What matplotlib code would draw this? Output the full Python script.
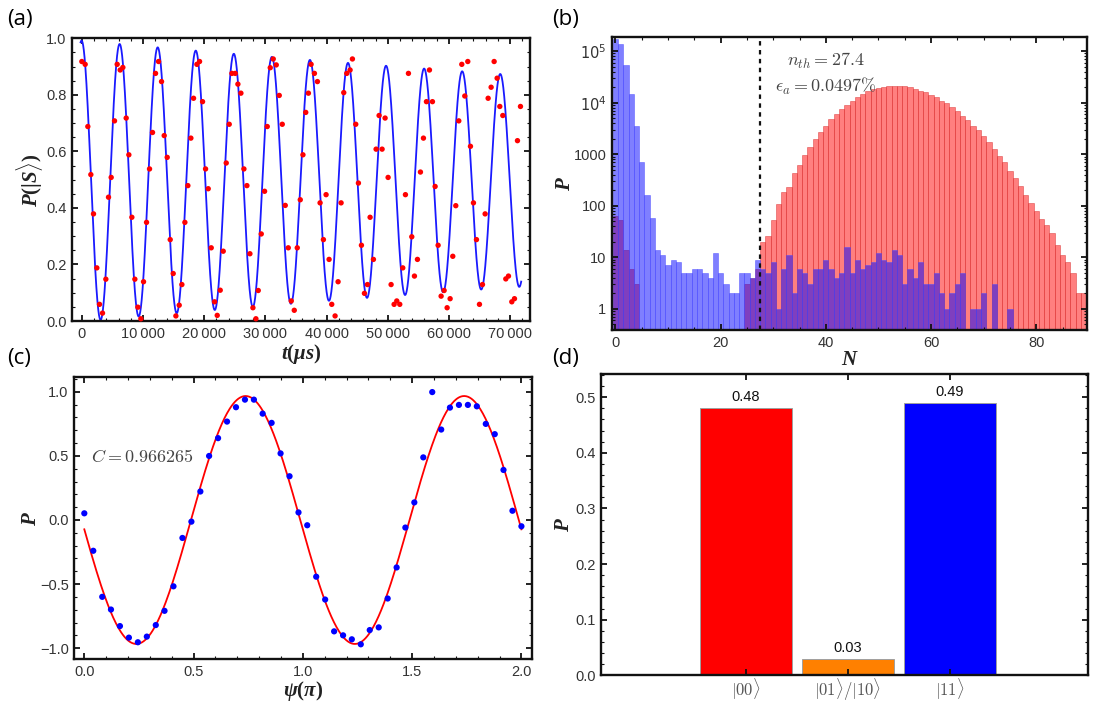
import numpy as np
import matplotlib.pyplot as plt
from matplotlib.ticker import (MultipleLocator, FixedLocator, FixedFormatter,
                               NullFormatter, LogLocator, FuncFormatter)

plt.rcParams['font.family'] = 'Liberation Sans'
plt.rcParams['mathtext.it'] = 'Liberation Serif:italic:bold'
plt.rcParams['mathtext.rm'] = 'Liberation Serif:bold'
plt.rcParams['mathtext.bf'] = 'Liberation Serif:bold'

# ---- (a) oscillation of P(|S>) vs t ----
t_meas = [0, 545, 981, 1472, 1908, 2453, 2889, 3379, 3924, 4360, 4796, 5341, 5777, 6268,
          6704, 7249, 7685, 8175, 8666, 9156, 9647, 10083, 10573, 11064, 11554, 12045,
          12535, 13026, 13462, 13952, 14443, 14933, 15369, 15914, 16350, 16841, 17331,
          17822, 18258, 18803, 19239, 19729, 20220, 20656, 21146, 21691, 22127, 22618,
          23108, 23599, 24089, 24525, 25070, 25506, 25997, 26487, 26978, 27468, 27959,
          28449, 28830, 29321, 29866, 30302, 30793, 31283, 31774, 32264, 32755, 33245,
          33736, 34226, 34717, 35207, 35698, 36134,
          36593, 37029, 37465, 38010, 38500, 38936, 39481, 39917, 40407, 40843, 41388,
          41878, 42369, 42805, 43295, 43840, 44221, 44766, 45202, 45693, 46183, 46673,
          47109, 47654, 48090, 48581, 49071, 49561, 50052, 50542, 51033, 51469, 51959,
          52449, 52885, 53376, 53921, 54357, 54847, 55337, 55828, 56318, 56809, 57299,
          57735, 58225, 58716, 59206, 59697, 60187, 60623, 61113, 61604, 62094, 62585,
          63075, 63511, 64001, 64492, 64982, 65472, 65908, 66399, 66889, 67380, 67870,
          68306, 68796, 69287, 69723, 70268, 70704, 71194, 71684]
p_meas = [0.918, 0.908, 0.688, 0.518, 0.379, 0.188, 0.059, 0.028, 0.148, 0.438, 0.508,
          0.708, 0.908, 0.888, 0.897, 0.718, 0.588, 0.367, 0.148, 0.049, 0.008, 0.139,
          0.349, 0.538, 0.667, 0.876, 0.918, 0.847, 0.656, 0.579, 0.288, 0.168, 0.018,
          0.056, 0.129, 0.349, 0.479, 0.647, 0.788, 0.908, 0.918, 0.776, 0.538, 0.468,
          0.259, 0.068, 0.020, 0.109, 0.247, 0.559, 0.696, 0.876, 0.876, 0.838, 0.806,
          0.538, 0.479, 0.238, 0.047, 0.008, 0.108, 0.308, 0.459, 0.688, 0.896, 0.927,
          0.906, 0.798, 0.696, 0.409, 0.259, 0.071, 0.038, 0.259, 0.429, 0.588,
          0.738, 0.806, 0.908, 0.876, 0.847, 0.418, 0.288, 0.447, 0.218, 0.059, 0.018,
          0.139, 0.418, 0.808, 0.876, 0.888, 0.927, 0.696, 0.488, 0.268, 0.098, 0.129,
          0.367, 0.218, 0.608, 0.727, 0.608, 0.718, 0.508, 0.129, 0.059, 0.071, 0.059,
          0.188, 0.447, 0.876, 0.298, 0.159, 0.218, 0.527, 0.647, 0.776, 0.888, 0.776,
          0.476, 0.268, 0.088, 0.108, 0.047, 0.079, 0.229, 0.408, 0.708, 0.908, 0.796,
          0.918, 0.618, 0.418, 0.288, 0.059, 0.129, 0.379, 0.788, 0.827, 0.918, 0.859,
          0.759, 0.727, 0.149, 0.159, 0.068, 0.079, 0.638, 0.759]
# damped-cosine fit parameters
fit_offset = 0.495
fit_amp = 0.497
fit_tau = 252000.0
fit_period = 6220.0
fit_t0 = -40.0

# ---- (b) photon-count histograms ----
counts_N = np.arange(90)
counts_blue = [170000, 135000, 53000, 15000, 3550, 720, 165, 57, 14, 11,
               7, 9, 8, 5, 5, 6, 6, 5, 4, 12,
               5, 3, 2, 2, 5, 5, 4, 9, 6, 5,
               8, 1, 6, 11, 2, 6, 5, 3, 6, 6,
               9, 6, 4, 5, 16, 5, 9, 6, 7, 8,
               12, 9, 8, 14, 11, 3, 6, 4, 8, 3,
               3, 5, 2, 1, 2, 3, 5, 0, 1, 1,
               2, 0, 3, 0, 0, 1, 0, 0, 0, 0,
               0, 0, 0, 0, 0, 0, 0, 0, 0, 0]
counts_red = [63, 52, 14, 6, 3, 0, 0, 0, 0, 0,
              0, 0, 0, 0, 0, 0, 0, 0, 0, 0,
              0, 0, 0, 0, 0, 3, 4, 6, 20, 26,
              52, 110, 185, 235, 440, 620, 975, 1370, 2000, 2700,
              3600, 4800, 6100, 7500, 9100, 11000, 12700, 14700, 16600, 18000,
              19000, 20300, 20800, 21000, 21000, 20800, 20300, 18500, 17000, 15900,
              14200, 12700, 11000, 9700, 8100, 6800, 5400, 4700, 3570, 2900,
              2270, 1700, 1290, 930, 700, 480, 340, 240, 160, 114,
              79, 56, 42, 30, 17, 11, 8, 5, 2, 2]
n_threshold = 27.4

# ---- (c) parity oscillation ----
psi = [0.000, 0.041, 0.082, 0.122, 0.163, 0.204, 0.245, 0.286, 0.327, 0.367,
       0.408, 0.449, 0.490, 0.531, 0.571, 0.612, 0.653, 0.694, 0.735, 0.776,
       0.816, 0.857, 0.898, 0.939, 0.980, 1.020, 1.061, 1.102, 1.143, 1.184,
       1.224, 1.265, 1.306, 1.347, 1.388, 1.429, 1.469, 1.510, 1.551, 1.592,
       1.633, 1.673, 1.714, 1.755, 1.796, 1.837, 1.878, 1.918, 1.959, 2.000]
parity = [0.052, -0.240, -0.599, -0.698, -0.827, -0.917, -0.953, -0.909, -0.819, -0.708,
          -0.517, -0.140, -0.013, 0.222, 0.499, 0.638, 0.767, 0.879, 0.938, 0.938,
          0.829, 0.757, 0.519, 0.341, 0.059, -0.041, -0.442, -0.620, -0.868, -0.899,
          -0.930, -0.969, -0.858, -0.837, -0.612, -0.370, -0.059, 0.137, 0.488, 0.997,
          0.705, 0.876, 0.897, 0.897, 0.886, 0.749, 0.669, 0.390, 0.072, -0.049]
contrast = 0.966265
psi_peak = 0.738

# ---- (d) state populations ----
states = [r'$|00\rangle$', r'$|01\rangle/|10\rangle$', r'$|11\rangle$']
populations = [0.48, 0.03, 0.49]
state_colors = ['#ff0000', '#ff8000', '#0000ff']


def style_frame(ax):
    for s in ax.spines.values():
        s.set_linewidth(1.7)
        s.set_color('#111111')
    ax.tick_params(which='both', direction='in', top=True, right=True,
                   colors='#111111', labelcolor='#333333', labelsize=10.5)
    ax.tick_params(which='major', length=4, width=1.3, pad=4)
    ax.tick_params(which='minor', length=2.2, width=0.8)


lab = dict(fontsize=15, math_fontfamily='custom', color='#222222')
note = dict(fontsize=13, math_fontfamily='cm', color='#444444')

fig = plt.figure(figsize=(11.1, 7.02), dpi=100)
ax_a = fig.add_axes([0.0649, 0.5427, 0.4129, 0.4027])
ax_b = fig.add_axes([0.5513, 0.5299, 0.4282, 0.4178])
ax_c = fig.add_axes([0.0669, 0.0608, 0.4123, 0.4017])
ax_d = fig.add_axes([0.5418, 0.0380, 0.4383, 0.4288])

# (a)
t_fit = np.linspace(-200, 71800, 4000)
p_fit = fit_offset + fit_amp * np.exp(-t_fit / fit_tau) * np.cos(2 * np.pi * (t_fit - fit_t0) / fit_period)
ax_a.plot(t_fit, p_fit, color='#1a1aff', lw=1.3, zorder=2)
ax_a.scatter(t_meas, p_meas, s=15, color='#ff0000', edgecolors='none', zorder=3, clip_on=False)
ax_a.set_xlim(-1600, 73300)
ax_a.set_ylim(0, 1)
ax_a.xaxis.set_major_locator(MultipleLocator(10000))
ax_a.xaxis.set_minor_locator(MultipleLocator(2000))
ax_a.xaxis.set_major_formatter(FuncFormatter(lambda v, p: f'{int(round(v)):,}'.replace(',', '\u2009')))
ax_a.yaxis.set_major_locator(MultipleLocator(0.2))
ax_a.yaxis.set_minor_locator(MultipleLocator(0.05))
ax_a.yaxis.set_major_formatter(FuncFormatter(lambda v, p: f'{v:.1f}'))
ax_a.set_xlabel(r'$t(\mu s)$', labelpad=1, **lab)
ax_a.set_ylabel(r'$P(|S\rangle)$', labelpad=1, **lab)
style_frame(ax_a)

# (b)
red = np.array(counts_red, dtype=float)
blue = np.array(counts_blue, dtype=float)
mr = red > 0
mb = blue > 0
ax_b.bar(counts_N[mr], red[mr], width=1.0, color=(1, 0, 0, 0.5),
         edgecolor=(0.85, 0.2, 0.2, 0.55), linewidth=0.6)
ax_b.bar(counts_N[mb], blue[mb], width=1.0, color=(0, 0, 1, 0.5),
         edgecolor=(0.3, 0.3, 1, 0.55), linewidth=0.6)
ax_b.set_yscale('log')
ax_b.set_xlim(-0.67, 89.7)
ax_b.set_ylim(0.39, 1.9e5)
ax_b.axvline(n_threshold, color='#111111', lw=1.6, ls=(0, (2, 2)))
ax_b.xaxis.set_major_locator(MultipleLocator(20))
ax_b.xaxis.set_minor_locator(MultipleLocator(5))
ax_b.yaxis.set_major_locator(FixedLocator([1, 10, 100, 1000, 1e4, 1e5]))
ax_b.yaxis.set_major_formatter(FixedFormatter(['1', '10', '100', '1000', r'$10^4$', r'$10^5$']))
ax_b.yaxis.set_minor_locator(LogLocator(base=10, subs=range(2, 10), numticks=20))
ax_b.yaxis.set_minor_formatter(NullFormatter())
ax_b.text(40.0, 6.3e4, r'$n_{th}=27.4$', ha='center', va='center', **note)
ax_b.text(40.0, 2.1e4, r'$\epsilon_a=0.0497\%$', ha='center', va='center', **note)
ax_b.set_xlabel(r'$N$', labelpad=0, **lab)
ax_b.set_ylabel(r'$P$', labelpad=0, **lab)
style_frame(ax_b)
for tk in ax_b.yaxis.get_major_ticks():
    tk.label1.set_math_fontfamily('dejavusans')

# (c)
psi_fit = np.linspace(0, 2, 500)
par_fit = contrast * np.cos(2 * np.pi * (psi_fit - psi_peak))
ax_c.plot(psi_fit, par_fit, color='#ff0000', lw=1.3, zorder=2)
ax_c.scatter(psi, parity, s=20, color='#0000ff', edgecolors='none', zorder=3)
ax_c.set_xlim(-0.046, 2.048)
ax_c.set_ylim(-1.086, 1.112)
ax_c.xaxis.set_major_locator(MultipleLocator(0.5))
ax_c.xaxis.set_minor_locator(MultipleLocator(0.1))
ax_c.yaxis.set_major_locator(MultipleLocator(0.5))
ax_c.yaxis.set_minor_locator(MultipleLocator(0.1))
ax_c.xaxis.set_major_formatter(FuncFormatter(lambda v, p: f'{v:.1f}'))
ax_c.yaxis.set_major_formatter(FuncFormatter(lambda v, p: f'{v:.1f}'.replace('-', '\u2212')))
ax_c.text(0.03, 0.486, r'$C=0.966265$', ha='left', va='center', **note)
ax_c.set_xlabel(r'$\psi(\pi)$', labelpad=0, **lab)
ax_c.set_ylabel(r'$P$', labelpad=0, **lab)
style_frame(ax_c)

# (d)
xpos = [1, 2, 3]
ax_d.bar(xpos, populations, width=0.9, color=state_colors, edgecolor='#a0a0a0', linewidth=0.7)
for x, h in zip(xpos, populations):
    ax_d.text(x, h + 0.02, f'{h:.2f}', ha='center', va='center', fontsize=10.5, color='#111111')
ax_d.set_xlim(-0.41, 4.35)
ax_d.set_ylim(0, 0.541)
ax_d.xaxis.set_major_locator(FixedLocator(xpos))
ax_d.xaxis.set_major_formatter(FixedFormatter(states))
ax_d.yaxis.set_major_locator(MultipleLocator(0.1))
ax_d.yaxis.set_minor_locator(MultipleLocator(0.02))
ax_d.yaxis.set_major_formatter(FuncFormatter(lambda v, p: f'{v:.1f}'))
ax_d.set_ylabel(r'$P$', labelpad=2, **lab)
style_frame(ax_d)
for tk in ax_d.xaxis.get_major_ticks():
    tk.label1.set_math_fontfamily('cm')
    tk.label1.set_fontsize(12)
    tk.label1.set_color('#555555')
ax_d.tick_params(axis='x', pad=1)

# panel letters
for x, y, s in [(0.0063, 0.972, '(a)'), (0.497, 0.972, '(b)'),
                (0.0063, 0.49, '(c)'), (0.497, 0.49, '(d)')]:
    fig.text(x, y, s, fontsize=16, family='Open Sans', va='center', ha='left')

fig.savefig('out.png', dpi=100)
